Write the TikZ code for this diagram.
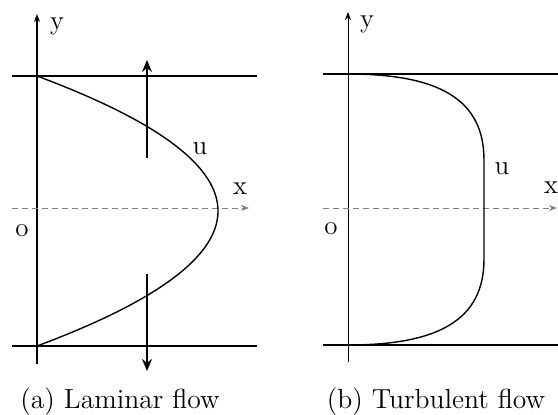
\documentclass[tikz,border=0pt]{standalone}
\usepackage{tikz}
\usetikzlibrary{arrows.meta}

\begin{document}
\begin{tikzpicture}[
    x=0.5pt, y=-0.5pt,
    wall/.style={line width=0.8pt},
    yaxis/.style={-{Stealth[length=4pt, width=3pt]}},
    xaxis/.style={densely dashed, gray, line width=0.4pt, -{Stealth[length=4pt, width=3pt]}},
    profile/.style={line width=0.7pt},
    flowarrow/.style={line width=0.8pt, -{Stealth[length=6pt, width=5pt]}},
    lbl/.style={font=\fontsize{13.5}{16}\selectfont, inner sep=0pt},
    caption/.style={font=\fontsize{13.8}{16}\selectfont, inner sep=0pt}
]
    \useasboundingbox (0,0) rectangle (558,414);

    % (a) laminar
    \coordinate (ayb) at (37,364);
    \coordinate (ayt) at (37,14);
    \coordinate (atl) at (12,76);
    \coordinate (atr) at (257,76);
    \coordinate (abl) at (12,346);
    \coordinate (abr) at (257,346);
    \coordinate (axl) at (12,208);
    \coordinate (axr) at (249,208);
    \coordinate (aupS) at (147,158);
    \coordinate (aupE) at (147,60);
    \coordinate (adnS) at (147,274);
    \coordinate (adnE) at (147,371);

    \draw[yaxis, line width=0.6pt] (ayb) -- (ayt);
    \draw[wall] (atl) -- (atr);
    \draw[wall] (abl) -- (abr);
    \draw[xaxis] (axl) -- (axr);
    \draw[profile] plot[domain=-135:135, samples=80] ({218-181*(\x/135)^2}, {211+\x});
    \draw[flowarrow] (aupS) -- (aupE);
    \draw[flowarrow] (adnS) -- (adnE);

    \node[lbl] (ay) at (57,26) {y};
    \node[lbl] (au) at (200,149) {u};
    \node[lbl] (ax) at (240,189) {x};
    \node[lbl] (ao) at (22,231) {o};
    \node[caption] (acap) at (120,402) {(a) Laminar flow};

    % (b) turbulent
    \coordinate (byb) at (348,362);
    \coordinate (byt) at (348,12);
    \coordinate (btl) at (323,74);
    \coordinate (btr) at (558,74);
    \coordinate (bbl) at (323,345);
    \coordinate (bbr) at (558,345);
    \coordinate (bxl) at (323,208);
    \coordinate (bxr) at (557,208);

    \draw[yaxis, line width=0.3pt] (byb) -- (byt);
    \draw[wall] (btl) -- (btr);
    \draw[wall] (bbl) -- (bbr);
    \draw[xaxis] (bxl) -- (bxr);
    \draw[profile] (348,74) .. controls (440,74) and (484,100) .. (484,160)
        -- (484,259) .. controls (484,319) and (440,345) .. (348,345);

    \node[lbl] (by) at (367,24) {y};
    \node[lbl] (bu) at (502,169) {u};
    \node[lbl] (bx) at (551,188) {x};
    \node[lbl] (bo) at (331,229) {o};
    \node[caption] (bcap) at (436,402) {(b) Turbulent flow};
\end{tikzpicture}
\end{document}
